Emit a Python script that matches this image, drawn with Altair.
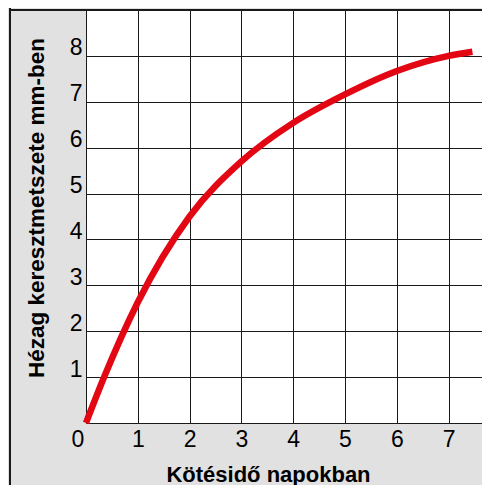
import altair as alt
import pandas as pd

# --- data ---
days = [0, 0.35, 1.0, 2.0, 3.0, 4.0, 5.0, 6.0, 7.0, 7.46]
gap_mm = [0, 1.0, 2.63, 4.5, 5.7, 6.54, 7.16, 7.67, 8.0, 8.09]
x_ticks = [0, 1, 2, 3, 4, 5, 6, 7]
y_ticks = [0, 1, 2, 3, 4, 5, 6, 7, 8]
x_title = "Kötésidő napokban"
y_title = "Hézag keresztmetszete mm-ben"

df = pd.DataFrame({"nap": days, "mm": gap_mm})
one = pd.DataFrame({"k": [0]})

FONT = "Liberation Sans"
INK = "#1a1a1a"
W, H = 396, 413

x_enc = alt.X(
    "nap:Q",
    scale=alt.Scale(domain=[0, 7.645], nice=False, zero=True),
    axis=alt.Axis(
        values=x_ticks, title=x_title, grid=True, gridColor=INK, gridWidth=1, gridOpacity=1,
        domain=False, ticks=False, tickSize=0,
        labelFont=FONT, labelFontSize=23, labelColor="#000", labelPadding=5,
        labelBaseline="top", labelFlush=False, labelOverlap=False,
        labelOffset={"condition": {"test": "datum.value === 0", "value": -8.5}, "value": 0},
        titleFont=FONT, titleFontSize=22, titleFontWeight="bold", titleColor="#000",
        titleX=182, titleY=58, titleAlign="center", titleBaseline="alphabetic",
    ),
)
y_enc = alt.Y(
    "mm:Q",
    scale=alt.Scale(domain=[0, 9], nice=False, zero=True),
    axis=alt.Axis(
        values=y_ticks, title=y_title, grid=True, gridColor=INK, gridWidth=1, gridOpacity=1,
        domain=False, ticks=False, tickSize=0,
        labelExpr="datum.value == 0 ? '' : datum.label",
        labelFont=FONT, labelFontSize=23, labelColor="#000", labelPadding=4,
        labelBaseline="alphabetic", labelFlush=False, labelOverlap=False, labelOffset=-1,
        titleFont=FONT, titleFontSize=22.5, titleFontWeight="bold", titleColor="#000",
        titleX=-43, titleY=197.5, titleAngle=270, titleAlign="center", titleBaseline="alphabetic",
    ),
)

curve = alt.Chart(df).mark_line(color="#e30613", strokeWidth=6.5, interpolate="monotone").encode(
    x=x_enc, y=y_enc, order="nap:Q"
)

top_border = alt.Chart(one).mark_rule(color=INK, strokeWidth=2).encode(
    x=alt.value(-77), x2=alt.value(W), y=alt.value(0)
)
left_border = alt.Chart(one).mark_rule(color=INK, strokeWidth=2).encode(
    x=alt.value(-76), y=alt.value(-2), y2=alt.value(H + 64)
)

chart = (
    alt.layer(curve, top_border, left_border)
    .properties(
        width=W, height=H,
        autosize=alt.AutoSizeParams(type="none"),
        padding={"left": 78, "top": 2, "right": 0, "bottom": 62},
        background="#e1e1e1",
    )
    .configure_view(fill="white", strokeWidth=0)
)

chart.save("out.html", embed_options={"renderer": "svg", "actions": False})
